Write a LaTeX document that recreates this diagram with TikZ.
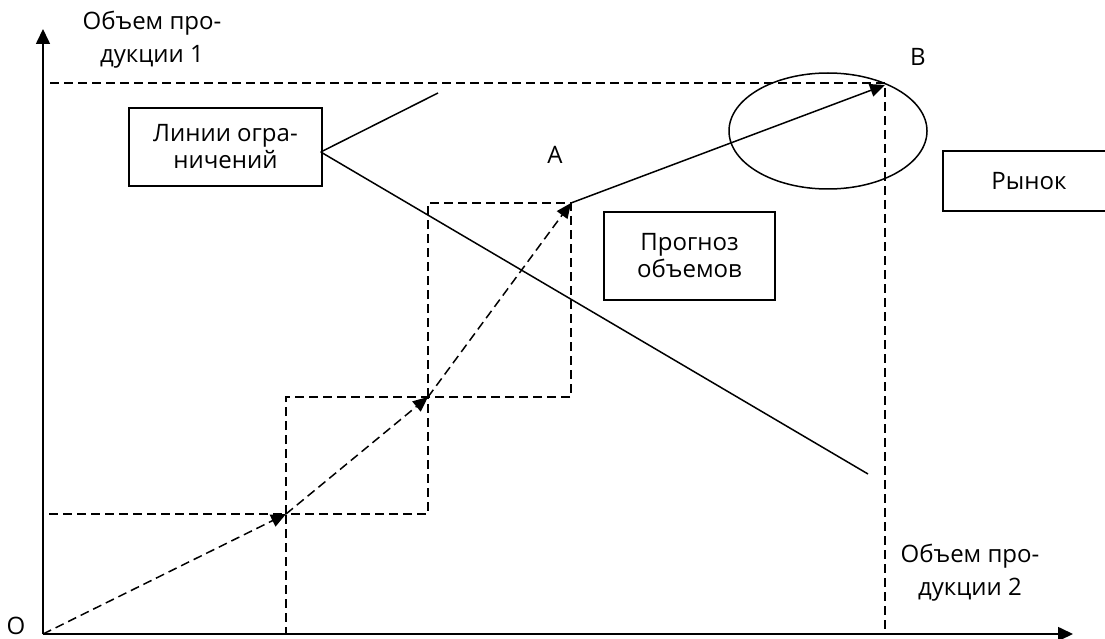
\documentclass[tikz,border=0pt]{standalone}
\usepackage{fontspec}
\setmainfont{Open Sans}
\usetikzlibrary{arrows.meta}
\begin{document}
\begin{tikzpicture}[x=1pt,y=-1pt,
  lbl/.style={font=\fontsize{24pt}{33pt}\selectfont, align=center, inner sep=0pt},
  boxnode/.style={draw, line width=1.5pt, font=\fontsize{24pt}{27pt}\selectfont, align=center},
  dashline/.style={line width=1.5pt, dash pattern=on 9pt off 5pt},
  solidline/.style={line width=1.5pt},
  tip/.style={-{Triangle[length=15pt,width=13pt]}},
  axis/.style={line width=1.6pt, -{Triangle[length=15pt,width=14pt]}}]
\useasboundingbox (0,0) rectangle (1105,639);
\clip (0,0) rectangle (1105,639);
% points
\coordinate (O) at (43,634);
\coordinate (P1) at (286,514);
\coordinate (P2) at (428,397);
\coordinate (A) at (571,203);
\coordinate (B) at (885,85);
\coordinate (ytop) at (43,29);
\coordinate (xend) at (1073,634);
\coordinate (dstart) at (50,83);
\coordinate (dcorner) at (885,83);
\coordinate (dbottom) at (885,634);
\coordinate (L1) at (438,93);
\coordinate (L2) at (868,474);
% axes
\draw[axis] (O) -- (ytop);
\draw[axis] (O) -- (xend);
% dashed guides
\draw[dashline] (dstart) -- (dcorner) -- (dbottom);
\draw[dashline] (O) rectangle (P1);
\draw[dashline] (P1) rectangle (P2);
\draw[dashline] (P2) rectangle (A);
% dashed arrows
\draw[dashline, tip] (O) -- (P1);
\draw[dashline, tip] (P1) -- (P2);
\draw[dashline, tip] (P2) -- (A);
% solid arrow
\draw[solidline, tip] (A) -- (B);
% ellipse
\draw[line width=1.5pt] (828,131) ellipse [x radius=99, y radius=58];
% boxes
\node[boxnode, minimum width=193pt, minimum height=78pt] (lim) at (225.5,147) {Линии огра-\\ничений};
\node[boxnode, minimum width=171pt, minimum height=88pt] (prog) at (689.5,256) {Прогноз\\объемов};
\node[boxnode, minimum width=172pt, minimum height=60pt] (market) at (1029,181) {Рынок};
% constraint lines
\coordinate (LS) at ([shift={(-2,5)}]lim.east);
\draw[solidline] (LS) -- (L1);
\draw[solidline] (LS) -- (L2);
% labels
\node[lbl] (y1) at (152,40) {Объем про-\\дукции 1};
\node[lbl] (x2) at (970,573) {Объем про-\\дукции 2};
\node[lbl] (lA) at (555,155) {А};
\node[lbl] (lB) at (918,57) {В};
\node[lbl] (lO) at (16,626) {О};
\end{tikzpicture}
\end{document}
